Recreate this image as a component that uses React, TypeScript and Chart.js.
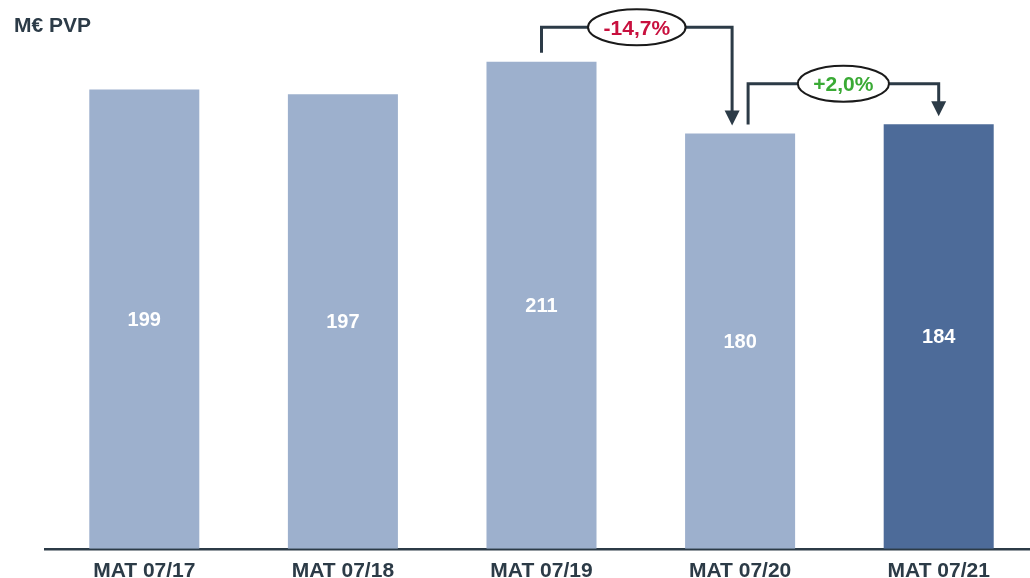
import React, { useEffect, useRef } from "react";
import { Chart, registerables } from "chart.js";

Chart.register(...registerables);

const categories = ["MAT 07/17", "MAT 07/18", "MAT 07/19", "MAT 07/20", "MAT 07/21"];
const values = [199, 197, 211, 180, 184];
const barColors = ["#9db0cd", "#9db0cd", "#9db0cd", "#9db0cd", "#4d6b99"];
const changeLabels = ["-14,7%", "+2,0%"];
const changeFrom = [2, 3];
const changeTo = [3, 4];
const changeColors = ["#c8103e", "#3aaa35"];
const bracketLevels = [226, 201.5];
const unitLabel = "M€ PVP";

const FONT = '"Liberation Sans", Arial, Helvetica, sans-serif';
const DARK = "#2c3b47";

const overlayPlugin = {
  id: "overlay",
  afterDatasetsDraw(chart: any) {
    const ctx = chart.ctx as CanvasRenderingContext2D;
    const meta = chart.getDatasetMeta(0);
    const yScale = chart.scales.y;
    ctx.save();
    // value labels
    ctx.font = `bold 20px ${FONT}`;
    ctx.fillStyle = "#ffffff";
    ctx.textAlign = "center";
    ctx.textBaseline = "middle";
    meta.data.forEach((bar: any, i: number) => {
      const p = bar.getProps(["x", "y", "base"], true);
      ctx.fillText(String(values[i]), p.x, (p.y + p.base) / 2 + 1);
    });
    // title
    ctx.font = `bold 21px ${FONT}`;
    ctx.fillStyle = DARK;
    ctx.textAlign = "left";
    ctx.textBaseline = "alphabetic";
    ctx.fillText(unitLabel, 14, 32);
    // brackets
    changeLabels.forEach((label, k) => {
      const a = meta.data[changeFrom[k]];
      const b = meta.data[changeTo[k]];
      const startShared = changeTo.includes(changeFrom[k]);
      const endShared = changeFrom.includes(changeTo[k]);
      const x1 = a.x + (startShared ? 8 : 0);
      const x2 = b.x - (endShared ? 8 : 0);
      const yStart = a.y - 9;
      const tip = b.y - 8;
      const top = yScale.getPixelForValue(bracketLevels[k]);
      const arrowH = 15;
      ctx.strokeStyle = DARK;
      ctx.fillStyle = DARK;
      ctx.lineWidth = 3;
      ctx.lineCap = "butt";
      ctx.lineJoin = "miter";
      ctx.beginPath();
      ctx.moveTo(x1, yStart);
      ctx.lineTo(x1, top);
      ctx.lineTo(x2, top);
      ctx.lineTo(x2, tip - arrowH + 1);
      ctx.stroke();
      ctx.beginPath();
      ctx.moveTo(x2 - 7.5, tip - arrowH);
      ctx.lineTo(x2 + 7.5, tip - arrowH);
      ctx.lineTo(x2, tip);
      ctx.closePath();
      ctx.fill();
      // ellipse with label
      ctx.font = `bold 21px ${FONT}`;
      const tw = ctx.measureText(label).width;
      const cx = (x1 + x2) / 2;
      const cy = top;
      ctx.beginPath();
      ctx.ellipse(cx, cy, tw / 2 + 15.5, 18, 0, 0, Math.PI * 2);
      ctx.fillStyle = "#ffffff";
      ctx.fill();
      ctx.lineWidth = 2;
      ctx.strokeStyle = "#1a1a1a";
      ctx.stroke();
      ctx.fillStyle = changeColors[k];
      ctx.textAlign = "center";
      ctx.textBaseline = "middle";
      ctx.fillText(label, cx, cy + 1.5);
    });
    ctx.restore();
  },
};

export default function App() {
  const ref = useRef<HTMLCanvasElement>(null);
  useEffect(() => {
    if (!ref.current) return;
    const chart = new Chart(ref.current, {
      type: "bar",
      data: {
        labels: categories,
        datasets: [
          {
            data: values,
            backgroundColor: barColors,
            borderWidth: 0,
            categoryPercentage: 1,
            barPercentage: 0.554,
          },
        ],
      },
      options: {
        responsive: false,
        animation: false,
        layout: { padding: { left: 45, top: 18, right: 0, bottom: 0 } },
        plugins: { legend: { display: false }, tooltip: { enabled: false }, title: { display: false } },
        scales: {
          x: {
            grid: { display: false, drawTicks: false },
            border: { display: true, color: DARK, width: 2.5 },
            ticks: {
              color: DARK,
              font: { family: FONT, size: 21, weight: "bold" },
              padding: 10,
              maxRotation: 0,
              autoSkip: false,
            },
          },
          y: { display: false, min: 0, max: 230 },
        },
      },
      plugins: [overlayPlugin],
    });
    return () => chart.destroy();
  }, []);
  return (
    <div style={{ position: "fixed", left: 0, top: 0, width: 1030, height: 578, overflow: "hidden", background: "#fff" }}>
      <canvas ref={ref} width={1038} height={594} style={{ display: "block", width: 1038, height: 594 }} />
    </div>
  );
}
